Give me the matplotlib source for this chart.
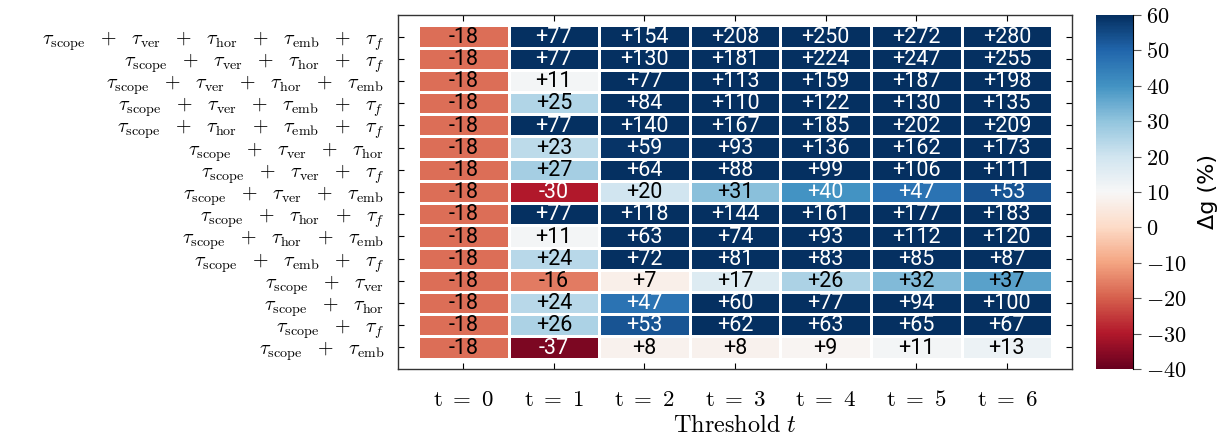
import matplotlib as mpl
mpl.use("Agg")
import matplotlib.pyplot as plt
import matplotlib.colors as mcolors
import numpy as np

plt.rcParams['mathtext.fontset'] = 'cm'

# rows: which tau terms are combined, top to bottom
combos = [
    ["scope", "ver", "hor", "emb", "f"],
    ["scope", "ver", "hor", "f"],
    ["scope", "ver", "hor", "emb"],
    ["scope", "ver", "emb", "f"],
    ["scope", "hor", "emb", "f"],
    ["scope", "ver", "hor"],
    ["scope", "ver", "f"],
    ["scope", "ver", "emb"],
    ["scope", "hor", "f"],
    ["scope", "hor", "emb"],
    ["scope", "emb", "f"],
    ["scope", "ver"],
    ["scope", "hor"],
    ["scope", "f"],
    ["scope", "emb"],
]
thresholds = [0, 1, 2, 3, 4, 5, 6]

# delta g (%) per combination and threshold
dg = [
    [-18, 77, 154, 208, 250, 272, 280],
    [-18, 77, 130, 181, 224, 247, 255],
    [-18, 11, 77, 113, 159, 187, 198],
    [-18, 25, 84, 110, 122, 130, 135],
    [-18, 77, 140, 167, 185, 202, 209],
    [-18, 23, 59, 93, 136, 162, 173],
    [-18, 27, 64, 88, 99, 106, 111],
    [-18, -30, 20, 31, 40, 47, 53],
    [-18, 77, 118, 144, 161, 177, 183],
    [-18, 11, 63, 74, 93, 112, 120],
    [-18, 24, 72, 81, 83, 85, 87],
    [-18, -16, 7, 17, 26, 32, 37],
    [-18, 24, 47, 60, 77, 94, 100],
    [-18, 26, 53, 62, 63, 65, 67],
    [-18, -37, 8, 8, 9, 11, 13],
]


def tau(name):
    if name == "f":
        return r"\tau_{f}"
    return r"\tau_{\mathrm{%s}}" % name


def label(combo):
    return "$" + r"\ \ +\ \ ".join(tau(c) for c in combo) + "$"


data = np.array(dg, dtype=float)
nrow, ncol = data.shape

cmap = plt.get_cmap("RdBu")
norm = mcolors.Normalize(vmin=-40, vmax=60)

fig = plt.figure(figsize=(12.3, 4.4), dpi=100)
ax = fig.add_axes([0.3236, 0.1614, 0.548, 0.8045])
cax = fig.add_axes([0.891, 0.1614, 0.030, 0.8045])

mesh = ax.pcolormesh(np.arange(ncol + 1), np.arange(nrow + 1), data,
                     cmap=cmap, norm=norm, edgecolor="white", linewidth=0.8)

for i in range(nrow):
    for j in range(ncol):
        v = data[i, j]
        # white text on the saturated ends of the colormap
        tc = "white" if abs(norm(v) - 0.5) >= 0.3 else "black"
        txt = "%+d" % v
        if v < 0:
            txt = "-%d" % abs(v)
        ax.text(j + 0.5, i + 0.53, txt, ha="center", va="center",
                color=tc, fontsize=15.5,
                family=["Roboto", "DejaVu Sans"])

ax.set_xlim(-0.22, ncol + 0.22)
ax.set_ylim(nrow + 0.47, -0.47)

ax.set_xticks(np.arange(ncol) + 0.5)
ax.set_xticklabels([r"$\mathrm{t}\ =\ %d$" % t for t in thresholds],
                   fontsize=16.5)
ax.set_yticks(np.arange(nrow) + 0.5)
ax.set_yticklabels([label(c) for c in combos], fontsize=14.5)
ax.tick_params(direction="in", length=4, top=True, right=True, width=0.8,
               pad=10)
ax.tick_params(axis="x", pad=14)
ax.set_xlabel(r"$\mathrm{Threshold}\ t$", fontsize=17.5, labelpad=1)
for s in ax.spines.values():
    s.set_color("#333333")
    s.set_linewidth(1.0)

cbar = fig.colorbar(mesh, cax=cax)
cbar.outline.set_visible(False)
cax.plot([1, 1], [0, 1], transform=cax.transAxes, color="black", lw=0.8,
         clip_on=False)
cbar.set_ticks(np.arange(-40, 61, 10))
cbar.set_ticklabels([r"$%d$" % v for v in range(-40, 61, 10)])
cax.tick_params(labelsize=16, length=6, width=0.8, color="#555555")
cbar.set_label("Δg (%)", fontsize=16, labelpad=8)

fig.savefig("out.png", dpi=100)
